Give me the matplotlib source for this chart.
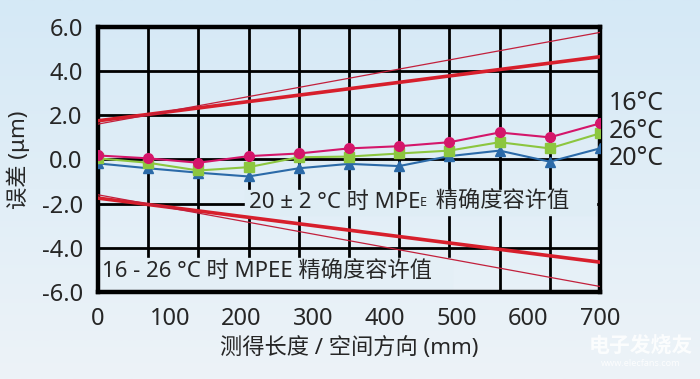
import numpy as np
import matplotlib
matplotlib.use("Agg")
import matplotlib.pyplot as plt
from matplotlib.patches import Rectangle

plt.rcParams['font.family'] = ['Noto Sans', 'Noto Sans CJK SC', 'DejaVu Sans']

# measurement positions (mm) and errors (um)
lengths = [0, 70, 140, 210, 280, 350, 420, 490, 560, 630, 700]
err_16 = [0.18, 0.05, -0.15, 0.15, 0.27, 0.5, 0.6, 0.78, 1.22, 1.0, 1.63]
err_26 = [0.05, -0.15, -0.5, -0.35, 0.1, 0.13, 0.27, 0.4, 0.78, 0.5, 1.18]
err_20 = [-0.18, -0.4, -0.6, -0.77, -0.4, -0.2, -0.3, 0.15, 0.4, -0.1, 0.5]

# MPE limit lines (endpoints at 0 and 700 mm)
limit_x = [0, 700]
mpe_20 = [1.75, 4.65]     # 20 +- 2 C
mpe_16_26 = [1.6, 5.75]   # 16 - 26 C

xticks = [0, 100, 200, 300, 400, 500, 600, 700]
yticks = [-6, -4, -2, 0, 2, 4, 6]
series_labels = ['16°C', '26°C', '20°C']

bg = '#e0edf6'
txt = '#262626'

fig = plt.figure(figsize=(7, 3.79), dpi=100)
# background gradient
bax = fig.add_axes([0, 0, 1, 1], zorder=-5)
grad = np.linspace(0, 1, 256).reshape(-1, 1)
cmap = matplotlib.colors.LinearSegmentedColormap.from_list('bg', ['#d5e9f6', '#edf3f8'])
bax.imshow(grad, aspect='auto', cmap=cmap, extent=[0, 1, 0, 1])
bax.axis('off')

ax = fig.add_axes([0.14, 0.2296, 0.717, 0.6994])
ax.set_facecolor('none')
ax.set_xlim(0, 700)
ax.set_ylim(-6, 6)

ax.set_xticks(xticks)
ax.set_yticks(yticks)
ax.set_yticklabels(['%.1f' % v for v in yticks])
ax.tick_params(which='both', length=0)
ax.tick_params(axis='x', pad=11, labelsize=17, labelcolor=txt)
ax.tick_params(axis='y', pad=11, labelsize=17, labelcolor=txt)
for x in lengths[1:-1]:
    ax.axvline(x, color='black', lw=2, zorder=1)
for y in yticks[1:-1]:
    ax.axhline(y, color='black', lw=2, zorder=1)
for s in ax.spines.values():
    s.set_linewidth(3.2)

# boxes behind the MPE texts
ax.add_patch(Rectangle((205, -2.5), 490, 1.1, color='#dfedf5', zorder=2))
ax.add_patch(Rectangle((2, -5.85), 492, 1.4, color='#e4eff6', zorder=2))

lx = np.array(limit_x)
ax.plot(lx, mpe_20, color='#d71f2c', lw=2.6, zorder=3)
ax.plot(lx, [-v for v in mpe_20], color='#d71f2c', lw=2.6, zorder=3)
ax.plot(lx, mpe_16_26, color='#c2203c', lw=0.9, zorder=3)
ax.plot(lx, [-v for v in mpe_16_26], color='#c2203c', lw=0.9, zorder=3)

ax.plot(lengths, err_20, color='#2b6aa8', lw=1.5, marker='^', ms=7, zorder=4)
ax.plot(lengths, err_26, color='#8cc63f', lw=1.5, marker='s', ms=7, zorder=5)
ax.plot(lengths, err_16, color='#d4166a', lw=1.5, marker='o', ms=7, zorder=6)

# series labels at the right
for lab, y in zip(series_labels, [2.55, 1.25, 0.05]):
    ax.text(712, y, lab, fontsize=18, color=txt, va='center', ha='left',
            clip_on=False)

# MPE texts
t1 = ax.text(210, -1.95, '20 ± 2 °C 时 MPE', fontsize=16, color=txt,
             va='center', ha='left', zorder=7)
ax.annotate('E', xy=(1, 0.18), xycoords=t1, fontsize=9, color=txt,
            va='bottom', ha='left', zorder=7)
ax.annotate(' 精确度容许值', xy=(1, 0), xycoords=t1, xytext=(7, 0),
            textcoords='offset points', fontsize=16, color=txt,
            va='bottom', ha='left', zorder=7)
ax.text(6, -5.1, '16 - 26 °C 时 MPEE 精确度容许值', fontsize=16, color=txt,
        va='center', ha='left', zorder=7)

ax.set_xlabel('测得长度 / 空间方向 (mm)', fontsize=16, color=txt, labelpad=4)
ax.set_ylabel('误差 (μm)', fontsize=16, color=txt, labelpad=8)

# watermark
fig.text(0.915, 0.085, '电子发烧友', fontsize=15, color='white', alpha=0.85,
         ha='center', va='center', fontweight='bold')
fig.text(0.915, 0.04, 'www.elecfans.com', fontsize=6.5, color='white', alpha=0.85,
         ha='center', va='center')

fig.savefig('out.png', dpi=100, facecolor=bg)
